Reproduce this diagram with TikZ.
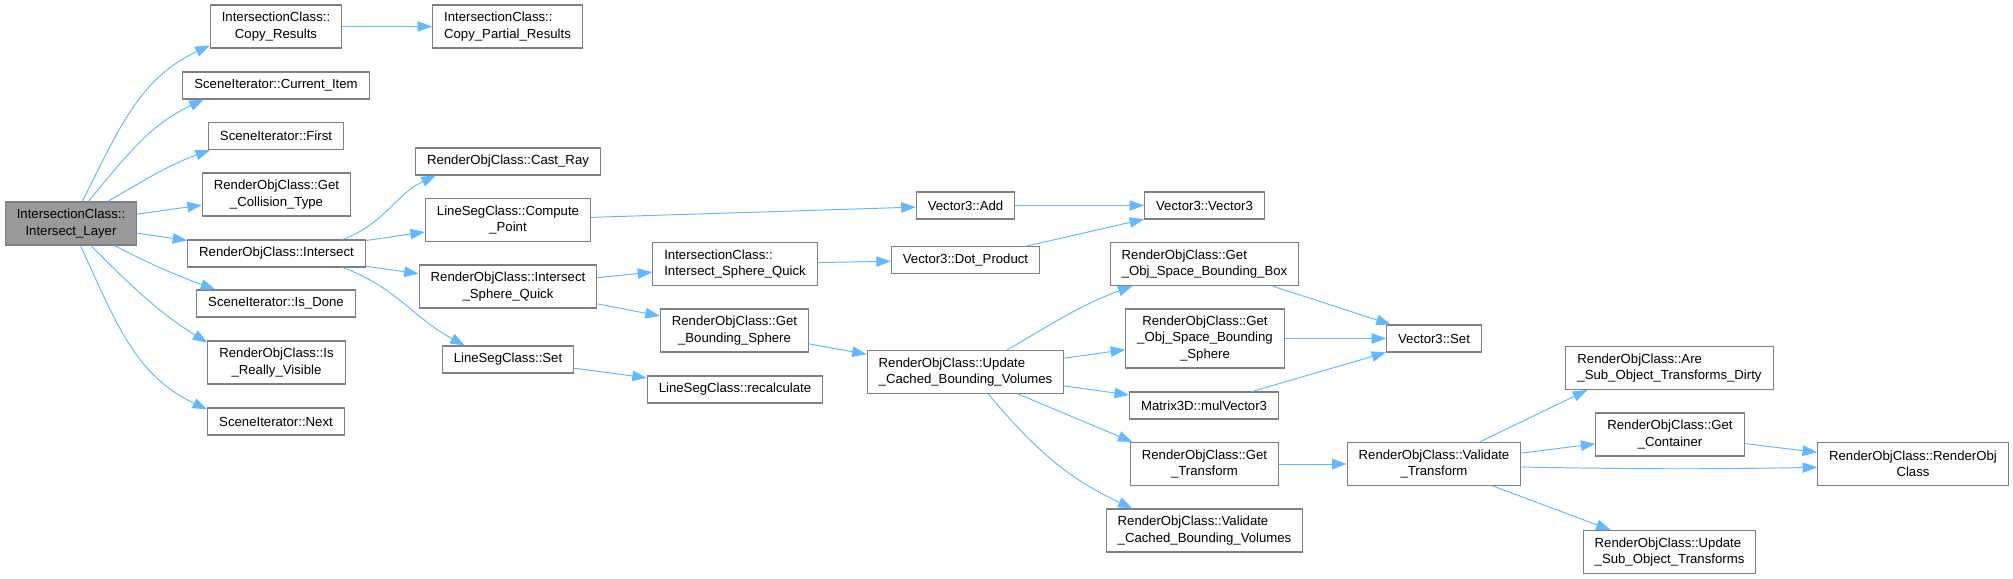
\documentclass[tikz,border=0pt]{standalone}
\usepackage{fontspec}
\setmainfont{Liberation Sans}
\usepackage{xcolor}
\usepackage{tikz}
\usetikzlibrary{arrows.meta}

\definecolor{edgeblue}{HTML}{63B8FF}
\definecolor{boxline}{HTML}{808080}
\definecolor{rootfill}{HTML}{999999}

\begin{document}
\begin{tikzpicture}[
    fn/.style={rectangle, draw=boxline, line width=0.6pt, fill=white, inner xsep=0.23cm, inner ysep=0pt, minimum height=0.54cm, align=center, font=\fontsize{7.5}{9.3}\selectfont},
    root/.style={fn, fill=rootfill},
    two/.style={minimum height=0.86cm},
    three/.style={minimum height=1.18cm},
    lft/.style={align=left},
    arr/.style={-{Triangle[length=0.29cm, width=0.21cm]}, line width=0.55pt, edgeblue},
]
    \useasboundingbox (0, 0) rectangle (40.26, -11.58);

    % Column 1: the caller
    \node[root, two] (layer) at (1.42, -4.47) {IntersectionClass::\\Intersect\_Layer};

    % Column 2: direct callees
    \node[fn, two] (copyres) at (5.52, -0.53) {IntersectionClass::\\Copy\_Results};
    \node[fn] (curitem) at (5.52, -1.71) {SceneIterator::Current\_Item};
    \node[fn] (first) at (5.52, -2.72) {SceneIterator::First};
    \node[fn, two] (getcoll) at (5.53, -3.89) {RenderObjClass::Get\\\_Collision\_Type};
    \node[fn] (isect) at (5.53, -5.07) {RenderObjClass::Intersect};
    \node[fn] (isdone) at (5.52, -6.07) {SceneIterator::Is\_Done};
    \node[fn, two] (isvis) at (5.53, -7.25) {RenderObjClass::Is\\\_Really\_Visible};
    \node[fn] (next) at (5.52, -8.43) {SceneIterator::Next};

    % Column 3
    \node[fn, two, lft] (copypart) at (10.15, -0.53) {IntersectionClass::\\Copy\_Partial\_Results};
    \node[fn] (castray) at (10.16, -3.23) {RenderObjClass::Cast\_Ray};
    \node[fn, two] (compute) at (10.16, -4.40) {LineSegClass::Compute\\\_Point};
    \node[fn, two] (rosphere) at (10.16, -5.73) {RenderObjClass::Intersect\\\_Sphere\_Quick};
    \node[fn] (lsset) at (10.16, -7.19) {LineSegClass::Set};

    % Column 4
    \node[fn, two, lft] (icsphere) at (14.70, -5.28) {IntersectionClass::\\Intersect\_Sphere\_Quick};
    \node[fn, two] (getbsph) at (14.69, -6.61) {RenderObjClass::Get\\\_Bounding\_Sphere};
    \node[fn] (recalc) at (14.70, -7.79) {LineSegClass::recalculate};

    % Column 5
    \node[fn] (vadd) at (19.31, -4.11) {Vector3::Add};
    \node[fn] (vdot) at (19.31, -5.20) {Vector3::Dot\_Product};
    \node[fn, two, lft] (updcache) at (19.31, -7.44) {RenderObjClass::Update\\\_Cached\_Bounding\_Volumes};

    % Column 6
    \node[fn] (vctor) at (24.09, -4.11) {Vector3::Vector3};
    \node[fn, two, lft] (osbox) at (24.09, -5.28) {RenderObjClass::Get\\\_Obj\_Space\_Bounding\_Box};
    \node[fn, three] (ossph) at (24.10, -6.77) {RenderObjClass::Get\\\_Obj\_Space\_Bounding\\\_Sphere};
    \node[fn] (mulv) at (24.08, -8.11) {Matrix3D::mulVector3};
    \node[fn, two] (gettr) at (24.09, -9.28) {RenderObjClass::Get\\\_Transform};
    \node[fn, two, lft] (valcache) at (24.09, -10.61) {RenderObjClass::Validate\\\_Cached\_Bounding\_Volumes};

    % Column 7
    \node[fn] (vset) at (28.68, -6.77) {Vector3::Set};
    \node[fn, two] (valtr) at (28.68, -9.28) {RenderObjClass::Validate\\\_Transform};

    % Column 8
    \node[fn, two, lft] (dirty) at (33.39, -7.36) {RenderObjClass::Are\\\_Sub\_Object\_Transforms\_Dirty};
    \node[fn, two] (getcont) at (33.40, -8.69) {RenderObjClass::Get\\\_Container};
    \node[fn, two, lft] (updsub) at (33.39, -11.04) {RenderObjClass::Update\\\_Sub\_Object\_Transforms};

    % Column 9
    \node[fn, two] (roctor) at (38.26, -9.28) {RenderObjClass::RenderObj\\Class};

    % Calls from the caller
    \draw[arr] (layer.63) to[out=63, in=205] (copyres.196);
    \draw[arr] (layer.52) to[out=50, in=205] (curitem.191);
    \draw[arr] (layer.31) to[out=30, in=200] (first.192);
    \draw[arr] (layer) -- (getcoll);
    \draw[arr] (layer) -- (isect);
    \draw[arr] (layer.-27) to[out=-27, in=160] (isdone.167);
    \draw[arr] (layer.-48) to[out=-45, in=148] (isvis.164);
    \draw[arr] (layer.-67) to[out=-65, in=155] (next.170);

    % Second level
    \draw[arr] (copyres) -- (copypart);
    \draw[arr] (isect.12) to[out=20, in=205] (castray.191);
    \draw[arr] (isect) -- (compute);
    \draw[arr] (isect) -- (rosphere);
    \draw[arr] (isect.-12) to[out=-20, in=152] (lsset.162);

    % Third level
    \draw[arr] (compute) -- (vadd);
    \draw[arr] (rosphere) -- (icsphere);
    \draw[arr] (rosphere) -- (getbsph);
    \draw[arr] (lsset) -- (recalc);
    \draw[arr] (icsphere) -- (vdot);
    \draw[arr] (getbsph) -- (updcache);

    % Vector3 and the bounding volume calls
    \draw[arr] (vadd) -- (vctor);
    \draw[arr] (vdot) -- (vctor);
    \draw[arr] (updcache.28) to[out=30, in=200] (osbox.197);
    \draw[arr] (updcache) -- (ossph);
    \draw[arr] (updcache) -- (mulv);
    \draw[arr] (updcache) -- (gettr.163);
    \draw[arr] (updcache.-44) to[out=-50, in=155] (valcache.163);
    \draw[arr] (osbox) -- (vset);
    \draw[arr] (ossph) -- (vset);
    \draw[arr] (mulv) -- (vset);

    % Transform validation
    \draw[arr] (gettr) -- (valtr);
    \draw[arr] (valtr) -- (dirty.195);
    \draw[arr] (valtr) -- (getcont);
    \draw[arr] (valtr.-2) to[out=-1, in=181] (roctor.182);
    \draw[arr] (valtr) -- (updsub);
    \draw[arr] (getcont) -- (roctor);
\end{tikzpicture}
\end{document}
